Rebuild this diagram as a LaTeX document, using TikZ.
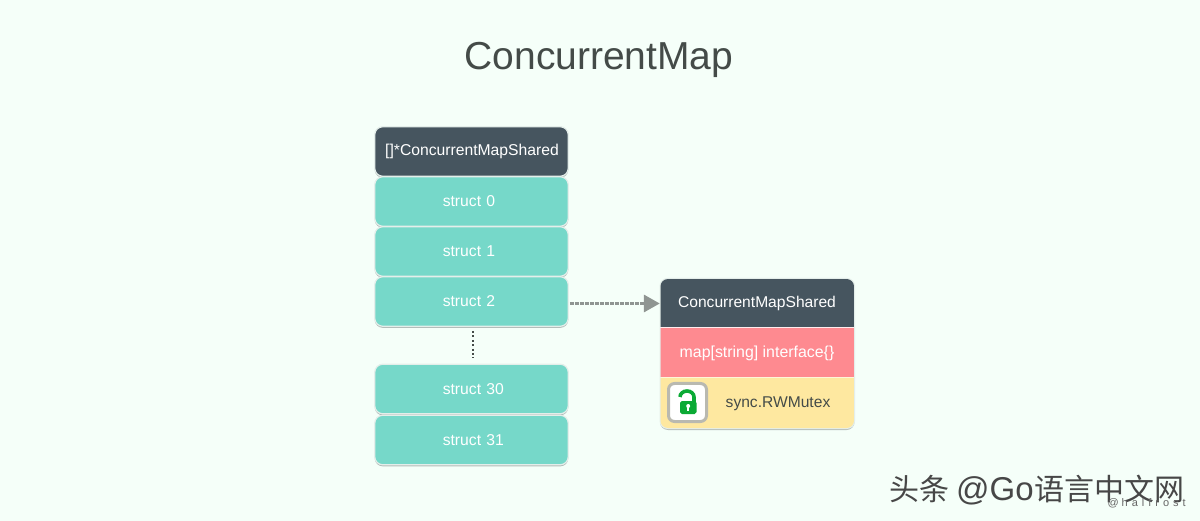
\documentclass[tikz,border=0pt]{standalone}
\usepackage{fontspec}
\setmainfont{Liberation Sans}
\newfontfamily\cjkf{Noto Sans CJK SC}
\usetikzlibrary{arrows.meta}
\definecolor{bgc}{HTML}{F5FFF9}
\definecolor{slatec}{HTML}{46555F}
\definecolor{tealc}{HTML}{76D8C9}
\definecolor{pinkc}{HTML}{FE8A90}
\definecolor{yellowc}{HTML}{FEE8A0}
\definecolor{edgec}{HTML}{E4EEEA}
\definecolor{shadowc}{HTML}{B4BDBA}
\definecolor{darktext}{HTML}{444B48}
\definecolor{arrowc}{HTML}{8F9592}
\definecolor{lockg}{HTML}{0BAA35}
\definecolor{frameg}{HTML}{B9B9B0}
\tikzset{
  x=1pt,y=-1pt,
  cell/.style={minimum width=193.5pt,minimum height=49.5pt,inner sep=0pt,rounded corners=8pt,draw=edgec,line width=1.2pt,text=white,font=\fontsize{15.7}{18}\selectfont,
    preaction={draw=none,fill=shadowc,transform canvas={yshift=-1.6pt}}},
  teal cell/.style={cell,fill=tealc,text width=193.5pt,align=left},
  slate cell/.style={cell,fill=slatec},
  lay/.style={minimum width=194pt,minimum height=49pt,inner sep=0pt,font=\fontsize{15.6}{18}\selectfont},
}
\newcommand{\structlabel}[1]{\hspace*{68pt}\raisebox{-0.6pt}{#1}}
\begin{document}
\begin{tikzpicture}
\useasboundingbox (0,0) rectangle (1200,521);
\fill[bgc] (0,0) rectangle (1200,521);
\node[text=darktext,font=\fontsize{39}{46}\selectfont,inner sep=0pt] (title) at (599,60) {ConcurrentMap};
% left stack
\node[slate cell] (head) at (471.5,151.5) {\hspace*{1pt}\raisebox{-1pt}{[]*ConcurrentMapShared}};
\node[teal cell] (s0) at (471.5,201.5) {\structlabel{struct 0}};
\node[teal cell] (s1) at (471.5,251.5) {\structlabel{struct 1}};
\node[teal cell] (s2) at (471.5,301.5) {\structlabel{struct 2}};
\node[teal cell] (s30) at (471.5,389) {\structlabel{struct 30}};
\node[teal cell] (s31) at (471.5,440) {\structlabel{struct 31}};
% dots
\coordinate (dtop) at (473,331);
\coordinate (dbot) at (473,358);
\draw[line width=2.3pt,dash pattern=on 2pt off 2.4pt,color=darktext] (dtop) -- (dbot);
% right stack
\fill[shadowc,rounded corners=8pt] (660,281) rectangle (854.5,430);
\fill[edgec,rounded corners=8pt] (659.5,278) rectangle (855,429);
\begin{scope}
\clip[rounded corners=7.5pt] (660.5,279) rectangle (854,428);
\fill[slatec] (660,279) rectangle (855,327.5);
\fill[white!85!pinkc] (660,327.5) rectangle (855,328.5);
\fill[pinkc] (660,328.5) rectangle (855,377);
\fill[white!60!yellowc] (660,377) rectangle (855,378);
\fill[yellowc] (660,378) rectangle (855,429);
\end{scope}
\node[lay,text=white] (shared) at (757,303.5) {ConcurrentMapShared};
\node[lay,text=white,font=\fontsize{15.9}{18}\selectfont] (mapn) at (757,353) {map[string] interface\{\}};
\node[lay,text=darktext,minimum height=50pt] (mutex) at (757,404) {\hspace*{42pt}sync.RWMutex};
% lock icon
\draw[fill=white,draw=frameg,line width=3pt,rounded corners=6pt] (668.5,383.5) rectangle (706.5,421.5);
\draw[lockg,line width=3.6pt] (680,397) arc[start angle=180,end angle=0,x radius=7,y radius=-6] -- (694,403);
\fill[lockg,rounded corners=1.8pt] (680,401) rectangle (696.5,414);
\fill[white] (688.2,406) circle (2pt);
\fill[white] (687.2,406) rectangle (689.2,411);
% connector
\draw[arrowc,line width=3.2pt,dash pattern=on 4pt off 1pt,-{Triangle[length=16pt,width=17pt]}] ([yshift=-2pt]s2.east) ++(1,0) -- (shared.west |- 0,303.5);
% watermark
\node[anchor=west,inner sep=0pt,text=black!72,font=\cjkf\fontsize{30}{36}\selectfont] (mark) at (889,490) {头条\hspace{7pt}{\setmainfont{Liberation Sans}\rmfamily\fontsize{33}{36}\selectfont @Go}\hspace{1pt}语言中文网};
\node[anchor=east,inner sep=0pt,text=black!60,font=\fontsize{11}{12}\selectfont] (handle) at (1186,503) {@\hspace{3pt}h\hspace{4pt}a\hspace{4pt}l\hspace{4pt}f\hspace{4pt}r\hspace{4pt}o\hspace{4pt}s\hspace{4pt}t};
\end{tikzpicture}
\end{document}
